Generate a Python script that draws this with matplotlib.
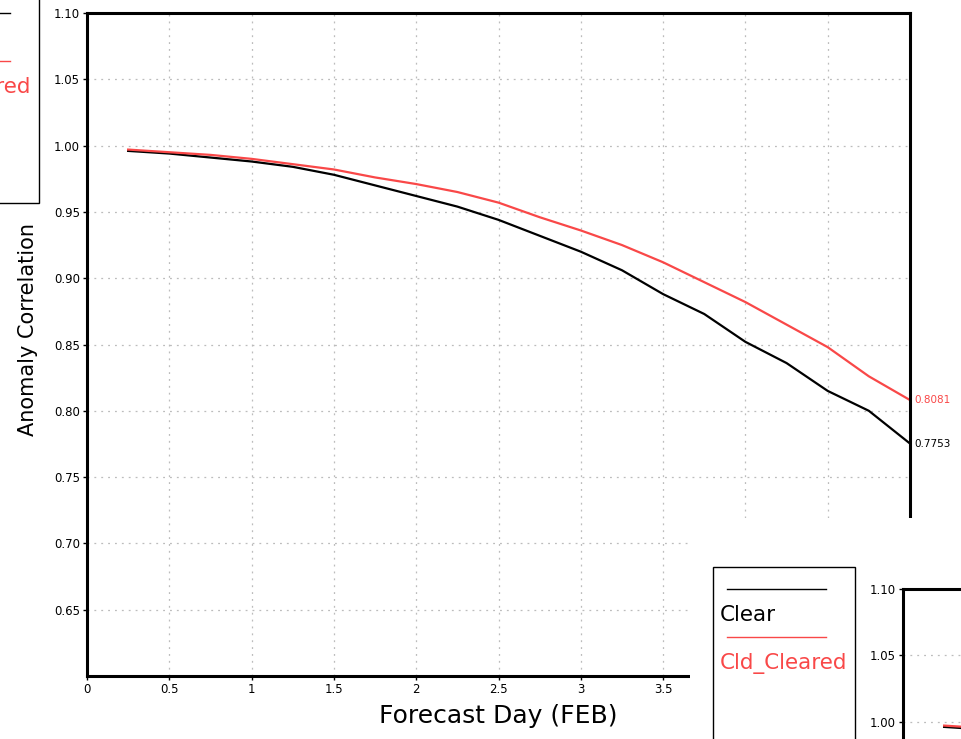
import matplotlib
matplotlib.use('agg')
import matplotlib.pyplot as plt
from matplotlib.patches import Rectangle
from matplotlib.lines import Line2D

# forecast day and anomaly correlation per experiment
days = [0.25, 0.5, 0.75, 1.0, 1.25, 1.5, 1.75, 2.0, 2.25, 2.5,
        2.75, 3.0, 3.25, 3.5, 3.75, 4.0, 4.25, 4.5, 4.75, 5.0]
clear = [0.996, 0.994, 0.991, 0.988, 0.984, 0.978, 0.970, 0.962, 0.954, 0.944,
         0.932, 0.920, 0.906, 0.888, 0.873, 0.852, 0.836, 0.815, 0.800, 0.7753]
cld_cleared = [0.997, 0.995, 0.993, 0.990, 0.986, 0.982, 0.976, 0.971, 0.965, 0.957,
               0.946, 0.936, 0.925, 0.912, 0.897, 0.882, 0.865, 0.848, 0.826, 0.8081]
names = ['Clear', 'Cld_Cleared']
colors = ['black', '#f94848']
xticks = [0, 0.5, 1, 1.5, 2, 2.5, 3, 3.5, 4, 4.5, 5]
yticks = [0.65, 0.70, 0.75, 0.80, 0.85, 0.90, 0.95, 1.00, 1.05, 1.10]

W, H = 961, 739
fig = plt.figure(figsize=(W / 100, H / 100), dpi=100)


def px_rect(x0, y0, w, h):
    # pixel box (top-left origin) -> figure fraction rect
    return [x0 / W, 1 - (y0 + h) / H, w / W, h / H]


def panel(rect):
    ax = fig.add_axes(rect)
    for vals, c in zip([clear, cld_cleared], colors):
        ax.plot(days, vals, color=c, lw=1.6)
    ax.set_xlim(0, 5)
    ax.set_ylim(0.60, 1.10)
    ax.set_xticks(xticks)
    ax.set_xticklabels([f'{t:g}' for t in xticks])
    ax.set_yticks(yticks)
    ax.set_yticklabels([f'{t:.2f}' for t in yticks])
    ax.grid(True, color='#bcbcbc', ls=(0, (1.5, 4)), lw=0.9)
    ax.tick_params(direction='out', length=3, width=1, labelsize=8.5, pad=2)
    for s in ax.spines.values():
        s.set_linewidth(2.2)
    return ax


ax = panel(px_rect(87, 13, 823, 663))
ax.set_ylabel('Anomaly Correlation', fontsize=15)
ax.yaxis.set_label_coords(-0.06, 0.522)
ax.set_xlabel('Forecast Day (FEB)', fontsize=18)
ax.xaxis.set_label_coords(0.5, -0.042)

# last value written at the right edge
for vals, c in zip([clear, cld_cleared], colors):
    ax.annotate(f'{vals[-1]:.4f}', (days[-1], vals[-1]), xytext=(3, 0),
                textcoords='offset points', color=c, fontsize=7.5,
                va='center', ha='left', annotation_clip=False)

# white area covering the lower right of the main panel
fig.patches.append(Rectangle((690 / W, 0), 1, 1 - 518 / H, transform=fig.transFigure,
                             facecolor='white', edgecolor='none', zorder=5))

# neighbouring panel, mostly off the picture
ax2 = panel(px_rect(903, 589, 823, 663))
ax2.set_zorder(6)


def legend_box(x0, y0):
    tf = fig.transFigure
    fig.patches.append(Rectangle((x0 / W, 1 - (y0 + 212) / H), 142 / W, 212 / H,
                                 transform=tf, facecolor='white', edgecolor='black',
                                 lw=1, zorder=7))
    for i, (n, c) in enumerate(zip(names, colors)):
        yl = y0 + 22 + 48 * i
        fig.lines.append(Line2D([(x0 + 14) / W, (x0 + 113) / W], [1 - yl / H, 1 - yl / H],
                                transform=tf, color=c, lw=1, zorder=8))
        fig.text((x0 + 7) / W, 1 - (yl + 26) / H, n, color=c, fontsize=15.5,
                 va='center', ha='left', zorder=8)


legend_box(-103, -9)
legend_box(713, 567)

fig.savefig('out.png', dpi=100)
